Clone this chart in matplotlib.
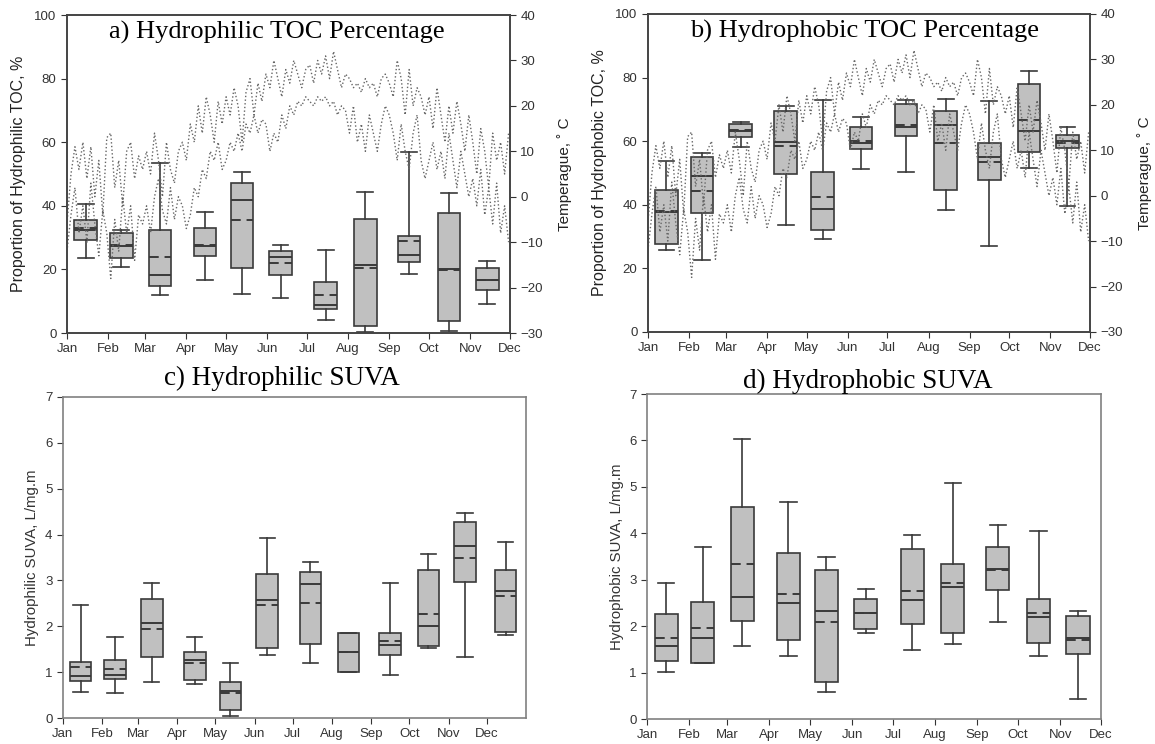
import numpy as np
import matplotlib
matplotlib.use("Agg")
import matplotlib.pyplot as plt

plt.rcParams['font.family'] = ['Liberation Sans', 'DejaVu Sans']

months = ['Jan', 'Feb', 'Mar', 'Apr', 'May', 'Jun', 'Jul', 'Aug', 'Sep', 'Oct', 'Nov', 'Dec']
month_start = [0, 31, 59, 90, 120, 151, 181, 212, 243, 273, 304, 334]

# box centres (day of year)
box_days = [14, 41, 70, 104, 132, 161, 195, 225, 258, 288, 317, 349]

# a) hydrophilic TOC %
a_lo = [23.6, 20.9, 11.8, 16.8, 12.3, 11.0, 4.0, 0.3, 18.6, 0.7, 9.2]
a_q1 = [29.1, 23.6, 14.9, 24.1, 20.4, 18.2, 7.5, 2.3, 22.3, 3.7, 13.4]
a_med = [32.5, 27.5, 18.2, 27.5, 41.8, 23.9, 8.9, 21.5, 24.4, 20.2, 16.6]
a_mean = [33.0, 27.7, 23.8, 27.6, 35.4, 22.0, 12.1, 20.6, 28.8, 19.8, 16.8]
a_q3 = [35.6, 31.6, 32.5, 33.1, 47.2, 25.7, 16.2, 35.7, 30.5, 37.6, 20.4]
a_hi = [40.6, 32.5, 53.5, 38.0, 50.5, 27.6, 26.2, 44.3, 56.9, 44.0, 22.5]

# b) hydrophobic TOC %
b_lo = [25.9, 22.6, 58.1, 33.5, 29.2, 51.4, 50.4, 38.5, 27.0, 51.6, 39.7]
b_q1 = [27.6, 37.5, 61.4, 49.8, 32.2, 57.4, 61.7, 44.5, 47.7, 56.7, 57.7]
b_med = [37.7, 49.2, 63.3, 59.6, 38.6, 59.3, 64.6, 65.0, 54.9, 63.3, 60.1]
b_mean = [38.1, 44.4, 63.5, 58.4, 42.5, 60.1, 65.0, 59.3, 53.3, 66.6, 59.3]
b_q3 = [44.8, 55.0, 65.4, 69.6, 50.2, 64.4, 71.6, 69.4, 59.5, 78.0, 62.1]
b_hi = [53.8, 56.3, 66.1, 71.0, 72.8, 67.7, 72.9, 73.3, 72.7, 82.1, 64.5]

# c) hydrophilic SUVA
c_lo = [0.57, 0.55, 0.78, 0.75, 0.05, 1.37, 1.20, 1.00, 0.94, 1.52, 1.32, 1.80]
c_q1 = [0.80, 0.85, 1.33, 0.83, 0.17, 1.52, 1.62, 1.00, 1.37, 1.58, 2.97, 1.87]
c_med = [0.92, 0.94, 2.07, 1.27, 0.58, 2.57, 2.92, 1.44, 1.59, 2.00, 3.76, 2.77]
c_mean = [1.11, 1.08, 1.95, 1.20, 0.54, 2.47, 2.51, 1.44, 1.69, 2.26, 3.50, 2.66]
c_q3 = [1.23, 1.27, 2.60, 1.43, 0.78, 3.13, 3.18, 1.85, 1.86, 3.22, 4.28, 3.23]
c_hi = [2.47, 1.76, 2.94, 1.77, 1.19, 3.93, 3.40, 1.85, 2.94, 3.57, 4.47, 3.83]

# d) hydrophobic SUVA
d_lo = [1.01, 1.21, 1.57, 1.36, 0.58, 1.85, 1.48, 1.62, 2.08, 1.35, 0.43]
d_q1 = [1.26, 1.21, 2.11, 1.70, 0.79, 1.94, 2.04, 1.85, 2.78, 1.63, 1.39]
d_med = [1.57, 1.75, 2.62, 2.50, 2.32, 2.28, 2.57, 2.85, 3.24, 2.20, 1.75]
d_mean = [1.74, 1.96, 3.34, 2.69, 2.10, 2.29, 2.75, 2.94, 3.21, 2.29, 1.70]
d_q3 = [2.26, 2.52, 4.57, 3.58, 3.21, 2.58, 3.66, 3.34, 3.70, 2.59, 2.21]
d_hi = [2.92, 3.70, 6.04, 4.67, 3.49, 2.80, 3.96, 5.08, 4.18, 4.05, 2.32]

# air temperature, every 3 days from Jan 1
temp_days = np.arange(0, 334, 3)
t_max = [-6, 5, 11, 6, 12, 4, 11, 0, 8, -4, 13,
         14, 2, 8, -2, 10, 12, 4, 9, 6,
         10, 5, 14, 8, 0, 12, 6, 3, 10, 12, 8,
         16, 12, 20, 14, 22, 18, 12, 21, 16,
         22, 18, 24, 20, 12, 23, 26, 18, 25, 21, 27,
         24, 30, 26, 22, 28, 25, 30, 27, 24, 28,
         29, 25, 30, 27, 31, 26, 32, 28, 24, 27,
         26, 24, 25, 23, 26, 24, 25, 22, 26, 27,
         25, 22, 30, 26, 18, 28, 20, 24, 22, 18,
         22, 15, 24, 18, 12, 20, 14, 21, 16, 10, 18,
         12, 5, 15, 10, 2, 14, 8, 12, 5, 14]
t_min = [-12, -4, 2, -8, -2, -10, 3, -6, -13, -3, -8,
         -18, -5, -12, 0, -8, -2, -14, -4, -6,
         -2, -8, 0, 4, -3, -6, 2, -5, 0, -2, -7,
         -4, 2, 0, 6, 4, 10, 8, 12, 6,
         8, 12, 10, 14, 10, 16, 14, 18, 14, 17, 16,
         10, 14, 12, 18, 15, 20, 18, 21, 20, 22,
         21, 20, 22, 21, 22, 20, 21, 18, 20, 19,
         14, 20, 12, 16, 10, 18, 14, 10, 16, 20,
         18, 14, 8, 16, 10, 6, 14, 18, 8, 4,
         8, 12, 6, 10, 4, 14, 8, 2, 10, 5, 0,
         4, -2, 6, -4, 2, -6, 3, -8, -2, -10]

fig = plt.figure(figsize=(11.55, 7.44), dpi=100)

ax_a = fig.add_axes([0.058, 0.5524, 0.3835, 0.4274])
ax_b = fig.add_axes([0.561, 0.5538, 0.3827, 0.4274])
ax_c = fig.add_axes([0.0545, 0.0349, 0.4009, 0.4315])
ax_d = fig.add_axes([0.5602, 0.0336, 0.3931, 0.4368])


def draw_boxes(ax, lo, q1, med, mean, q3, hi):
    stats = []
    for i in range(len(lo)):
        stats.append(dict(whislo=lo[i], q1=q1[i], med=med[i], mean=mean[i],
                          q3=q3[i], whishi=hi[i], fliers=[]))
    ec = '#3a3a3a'
    ax.bxp(stats, positions=box_days[:len(lo)], widths=17, capwidths=12,
           patch_artist=True, showmeans=True, meanline=True, manage_ticks=False,
           boxprops=dict(facecolor='#c0c0c0', edgecolor=ec, linewidth=1.2),
           medianprops=dict(color=ec, linewidth=1.4),
           meanprops=dict(color=ec, linestyle=(0, (5, 3)), linewidth=1.4),
           whiskerprops=dict(color=ec, linewidth=1.2),
           capprops=dict(color=ec, linewidth=1.2))


def style_axis(ax, xmax, spine_col):
    ax.set_xlim(0, xmax)
    ax.set_xticks(month_start)
    ax.set_xticklabels(months)
    ax.tick_params(direction='out', length=4, labelsize=9.5, colors='#333333')
    for s in ax.spines.values():
        s.set_color(spine_col)
        s.set_linewidth(1.2)


# a) and b) with temperature on the right axis
for ax, data, ylab, title, tx in [
        (ax_a, (a_lo, a_q1, a_med, a_mean, a_q3, a_hi),
         'Proportion of Hydrophilic TOC, %', 'a) Hydrophilic TOC Percentage', 0.474),
        (ax_b, (b_lo, b_q1, b_med, b_mean, b_q3, b_hi),
         'Proportion of Hydrophobic TOC, %', 'b) Hydrophobic TOC Percentage', 0.489)]:
    draw_boxes(ax, *data)
    style_axis(ax, 334, '#444444')
    ax.set_ylim(0, 100)
    ax.set_yticks([0, 20, 40, 60, 80, 100])
    ax.set_ylabel(ylab, fontsize=11.5, color='#222222', labelpad=6)
    ax.text(tx, 0.926, title, transform=ax.transAxes, ha='center', va='baseline',
            fontsize=19, family='Liberation Serif')
    tw = ax.twinx()
    tw.plot(temp_days, t_max, linestyle=':', color='#666666', linewidth=1)
    tw.plot(temp_days, t_min, linestyle=':', color='#666666', linewidth=1)
    tw.set_ylim(-30, 40)
    tw.set_yticks(range(-30, 41, 10))
    tw.tick_params(direction='out', length=4, labelsize=9.5, colors='#333333')
    for s in tw.spines.values():
        s.set_color('#444444')
        s.set_linewidth(1.2)
    tw.set_ylabel('Temperague, ˚ C', fontsize=11, color='#222222', labelpad=10)

# c) and d) SUVA
for ax, data, ylab, title, xmax, tx, ty in [
        (ax_c, (c_lo, c_q1, c_med, c_mean, c_q3, c_hi),
         'Hydrophilic SUVA, L/mg.m', 'c) Hydrophilic SUVA', 365, 0.472, 1.037),
        (ax_d, (d_lo, d_q1, d_med, d_mean, d_q3, d_hi),
         'Hydrophobic SUVA, L/mg.m', 'd) Hydrophobic SUVA', 334, 0.486, 1.018)]:
    draw_boxes(ax, *data)
    style_axis(ax, xmax, '#808080')
    ax.set_ylim(0, 7)
    ax.set_yticks(range(0, 8))
    ax.set_ylabel(ylab, fontsize=10.8, color='#333333')
    ax.text(tx, ty, title, transform=ax.transAxes, ha='center', va='baseline',
            fontsize=19.5, family='Liberation Serif')

fig.savefig('out.png', dpi=100)
